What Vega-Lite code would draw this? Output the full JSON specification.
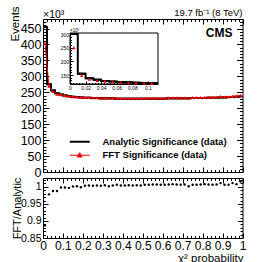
{
  "$schema": "https://vega.github.io/schema/vega-lite/v6.json",
  "background": "white",
  "padding": {"left": 9, "top": 5, "right": 0, "bottom": 0},
  "autosize": {"type": "pad"},
  "config": {
    "font": "Liberation Sans",
    "view": {"stroke": "black", "strokeWidth": 1},
    "axis": {"domain": false, "grid": false, "labelColor": "black", "titleColor": "black", "tickColor": "black", "labelFont": "Liberation Sans", "titleFont": "Liberation Sans", "titleFontWeight": "normal", "tickWidth": 1, "labelFlush": false, "labelOverlap": false, "labelBound": false, "zindex": 1},
    "text": {"font": "Liberation Sans", "color": "black"}
  },
  "datasets": {
    "main": [
      {"lo": 0.00, "hi": 0.02, "c": 0.01, "analytic": 455, "fft": 403.6, "ratio": 0.887},
      {"lo": 0.02, "hi": 0.04, "c": 0.03, "analytic": 275, "fft": 269.0, "ratio": 0.978},
      {"lo": 0.04, "hi": 0.06, "c": 0.05, "analytic": 256, "fft": 252.9, "ratio": 0.988},
      {"lo": 0.06, "hi": 0.08, "c": 0.07, "analytic": 247, "fft": 244.0, "ratio": 0.988},
      {"lo": 0.08, "hi": 0.10, "c": 0.09, "analytic": 243, "fft": 242.5, "ratio": 0.998},
      {"lo": 0.10, "hi": 0.12, "c": 0.11, "analytic": 240, "fft": 239.5, "ratio": 0.998},
      {"lo": 0.12, "hi": 0.14, "c": 0.13, "analytic": 238, "fft": 237.3, "ratio": 0.997},
      {"lo": 0.14, "hi": 0.16, "c": 0.15, "analytic": 236, "fft": 236.2, "ratio": 1.001},
      {"lo": 0.16, "hi": 0.18, "c": 0.17, "analytic": 235, "fft": 235.5, "ratio": 1.002},
      {"lo": 0.18, "hi": 0.20, "c": 0.19, "analytic": 234, "fft": 233.8, "ratio": 0.999},
      {"lo": 0.20, "hi": 0.22, "c": 0.21, "analytic": 233, "fft": 233.7, "ratio": 1.003},
      {"lo": 0.22, "hi": 0.24, "c": 0.23, "analytic": 233, "fft": 233.9, "ratio": 1.004},
      {"lo": 0.24, "hi": 0.26, "c": 0.25, "analytic": 232, "fft": 232.7, "ratio": 1.003},
      {"lo": 0.26, "hi": 0.28, "c": 0.27, "analytic": 232, "fft": 232.9, "ratio": 1.004},
      {"lo": 0.28, "hi": 0.30, "c": 0.29, "analytic": 231, "fft": 231.7, "ratio": 1.003},
      {"lo": 0.30, "hi": 0.32, "c": 0.31, "analytic": 231, "fft": 232.2, "ratio": 1.005},
      {"lo": 0.32, "hi": 0.34, "c": 0.33, "analytic": 231, "fft": 231.5, "ratio": 1.002},
      {"lo": 0.34, "hi": 0.36, "c": 0.35, "analytic": 231, "fft": 231.9, "ratio": 1.004},
      {"lo": 0.36, "hi": 0.38, "c": 0.37, "analytic": 230, "fft": 231.4, "ratio": 1.006},
      {"lo": 0.38, "hi": 0.40, "c": 0.39, "analytic": 230, "fft": 230.9, "ratio": 1.004},
      {"lo": 0.40, "hi": 0.42, "c": 0.41, "analytic": 230, "fft": 230.9, "ratio": 1.004},
      {"lo": 0.42, "hi": 0.44, "c": 0.43, "analytic": 230, "fft": 231.2, "ratio": 1.005},
      {"lo": 0.44, "hi": 0.46, "c": 0.45, "analytic": 230, "fft": 230.9, "ratio": 1.004},
      {"lo": 0.46, "hi": 0.48, "c": 0.47, "analytic": 230, "fft": 231.2, "ratio": 1.005},
      {"lo": 0.48, "hi": 0.50, "c": 0.49, "analytic": 230, "fft": 230.9, "ratio": 1.004},
      {"lo": 0.50, "hi": 0.52, "c": 0.51, "analytic": 230, "fft": 231.4, "ratio": 1.006},
      {"lo": 0.52, "hi": 0.54, "c": 0.53, "analytic": 230, "fft": 231.4, "ratio": 1.006},
      {"lo": 0.54, "hi": 0.56, "c": 0.55, "analytic": 230, "fft": 231.6, "ratio": 1.007},
      {"lo": 0.56, "hi": 0.58, "c": 0.57, "analytic": 230, "fft": 231.6, "ratio": 1.007},
      {"lo": 0.58, "hi": 0.60, "c": 0.59, "analytic": 230, "fft": 231.4, "ratio": 1.006},
      {"lo": 0.60, "hi": 0.62, "c": 0.61, "analytic": 230, "fft": 231.4, "ratio": 1.006},
      {"lo": 0.62, "hi": 0.64, "c": 0.63, "analytic": 231, "fft": 232.6, "ratio": 1.007},
      {"lo": 0.64, "hi": 0.66, "c": 0.65, "analytic": 231, "fft": 232.8, "ratio": 1.008},
      {"lo": 0.66, "hi": 0.68, "c": 0.67, "analytic": 231, "fft": 232.6, "ratio": 1.007},
      {"lo": 0.68, "hi": 0.70, "c": 0.69, "analytic": 231, "fft": 232.4, "ratio": 1.006},
      {"lo": 0.70, "hi": 0.72, "c": 0.71, "analytic": 231, "fft": 232.6, "ratio": 1.007},
      {"lo": 0.72, "hi": 0.74, "c": 0.73, "analytic": 231, "fft": 231.5, "ratio": 1.002},
      {"lo": 0.74, "hi": 0.76, "c": 0.75, "analytic": 232, "fft": 233.4, "ratio": 1.006},
      {"lo": 0.76, "hi": 0.78, "c": 0.77, "analytic": 232, "fft": 233.4, "ratio": 1.006},
      {"lo": 0.78, "hi": 0.80, "c": 0.79, "analytic": 232, "fft": 233.6, "ratio": 1.007},
      {"lo": 0.80, "hi": 0.82, "c": 0.81, "analytic": 232, "fft": 233.9, "ratio": 1.008},
      {"lo": 0.82, "hi": 0.84, "c": 0.83, "analytic": 233, "fft": 234.6, "ratio": 1.007},
      {"lo": 0.84, "hi": 0.86, "c": 0.85, "analytic": 233, "fft": 234.4, "ratio": 1.006},
      {"lo": 0.86, "hi": 0.88, "c": 0.87, "analytic": 233, "fft": 234.6, "ratio": 1.007},
      {"lo": 0.88, "hi": 0.90, "c": 0.89, "analytic": 234, "fft": 236.6, "ratio": 1.011},
      {"lo": 0.90, "hi": 0.92, "c": 0.91, "analytic": 234, "fft": 235.4, "ratio": 1.006},
      {"lo": 0.92, "hi": 0.94, "c": 0.93, "analytic": 235, "fft": 236.4, "ratio": 1.006},
      {"lo": 0.94, "hi": 0.96, "c": 0.95, "analytic": 235, "fft": 237.6, "ratio": 1.011},
      {"lo": 0.96, "hi": 0.98, "c": 0.97, "analytic": 236, "fft": 237.9, "ratio": 1.008},
      {"lo": 0.98, "hi": 1.00, "c": 0.99, "analytic": 237, "fft": 240.8, "ratio": 1.016}
    ],
    "inset": [
      {"lo": 0.00, "hi": 0.01, "c": 0.005, "analytic": 300, "fft": 250},
      {"lo": 0.01, "hi": 0.02, "c": 0.015, "analytic": 155, "fft": 148},
      {"lo": 0.02, "hi": 0.03, "c": 0.025, "analytic": 138, "fft": 134},
      {"lo": 0.03, "hi": 0.04, "c": 0.035, "analytic": 133, "fft": 130},
      {"lo": 0.04, "hi": 0.05, "c": 0.045, "analytic": 128, "fft": 127},
      {"lo": 0.05, "hi": 0.06, "c": 0.055, "analytic": 126, "fft": 125},
      {"lo": 0.06, "hi": 0.07, "c": 0.065, "analytic": 124, "fft": 123},
      {"lo": 0.07, "hi": 0.08, "c": 0.075, "analytic": 123, "fft": 122},
      {"lo": 0.08, "hi": 0.09, "c": 0.085, "analytic": 122, "fft": 121},
      {"lo": 0.09, "hi": 0.10, "c": 0.095, "analytic": 121, "fft": 120},
      {"lo": 0.10, "hi": 0.11, "c": 0.105, "analytic": 120, "fft": 119},
      {"lo": 0.11, "hi": 0.12, "c": 0.115, "analytic": 120, "fft": null}
    ]
  },
  "spacing": 6,
  "bounds": "flush",
  "vconcat": [
    {
      "width": 199.5,
      "height": 153,
      "resolve": {"scale": {"x": "independent", "y": "independent"}, "axis": {"x": "independent", "y": "independent"}},
      "layer": [
        {
          "data": {"name": "main"},
          "layer": [
            {
              "mark": {"type": "rule", "color": "black", "strokeWidth": 2},
              "encoding": {
                "x": {"field": "lo", "type": "quantitative", "scale": {"domain": [0, 1], "nice": false, "zero": false}, "axis": null},
                "x2": {"field": "hi"},
                "y": {"field": "analytic", "type": "quantitative", "scale": {"domain": [0, 480], "nice": false, "zero": false}, "axis": null}
              }
            },
            {
              "mark": {"type": "line", "interpolate": "step", "strokeWidth": 2},
              "encoding": {
                "x": {"field": "c", "type": "quantitative", "axis": null},
                "y": {"field": "analytic", "type": "quantitative", "axis": null},
                "color": {"datum": "Analytic Significance (data)", "type": "nominal",
                  "scale": {"domain": ["Analytic Significance (data)", "FFT Significance (data)"], "range": ["#000000", "#ff0000"]},
                  "legend": {"orient": "none", "legendX": 32, "legendY": 118, "title": null, "padding": 0,
                    "labelFont": "Liberation Sans", "labelFontSize": 9.5, "labelFontWeight": "bold", "labelColor": "black",
                    "symbolSize": 16, "labelOffset": 18, "rowPadding": 2.5,
                    "encode": {"symbols": {"update": {
                      "shape": {"signal": "datum.value === 'FFT Significance (data)' ? 'M-5,0H5M0,-1.3L1.2,0.9L-1.2,0.9Z' : 'M-5,0H5'"},
                      "stroke": {"signal": "datum.value === 'FFT Significance (data)' ? '#ff0000' : '#000000'"},
                      "fill": {"signal": "datum.value === 'FFT Significance (data)' ? '#ff0000' : 'transparent'"},
                      "strokeWidth": {"signal": "datum.value === 'FFT Significance (data)' ? 1 : 2"},
                      "opacity": {"value": 1}
                    }}}}}
              }
            },
            {
              "mark": {"type": "line", "strokeWidth": 1},
              "encoding": {
                "x": {"field": "c", "type": "quantitative", "axis": null},
                "y": {"field": "fft", "type": "quantitative", "axis": null},
                "color": {"datum": "FFT Significance (data)", "type": "nominal"}
              }
            },
            {
              "mark": {"type": "point", "shape": "triangle-up", "filled": true, "color": "#ff0000", "size": 12, "opacity": 1},
              "encoding": {
                "x": {"field": "c", "type": "quantitative", "axis": null},
                "y": {"field": "fft", "type": "quantitative", "axis": null}
              }
            },
            {
              "data": {"values": [{"label": "CMS"}]},
              "mark": {"type": "text", "align": "right", "baseline": "alphabetic", "fontSize": 12, "fontWeight": "bold"},
              "encoding": {
                "x": {"datum": 0.95, "type": "quantitative", "axis": null},
                "y": {"datum": 423.5, "type": "quantitative", "axis": null},
                "text": {"field": "label"}
              }
            },
            {
              "data": {"values": [{"label": "×10³"}]},
              "mark": {"type": "text", "align": "left", "baseline": "alphabetic", "fontSize": 10.5, "dy": -1},
              "encoding": {
                "x": {"datum": 0, "type": "quantitative", "axis": null},
                "y": {"datum": 480, "type": "quantitative", "axis": null},
                "text": {"field": "label"}
              }
            },
            {
              "data": {"values": [{"label": "19.7 fb⁻¹ (8 TeV)"}]},
              "mark": {"type": "text", "align": "right", "baseline": "alphabetic", "fontSize": 9.5, "dy": -3},
              "encoding": {
                "x": {"datum": 1, "type": "quantitative", "axis": null},
                "y": {"datum": 480, "type": "quantitative", "axis": null},
                "text": {"field": "label"}
              }
            }
          ]
        },
        {
          "data": {"values": [{}]},
          "mark": {"type": "point", "opacity": 0},
          "encoding": {
            "x": {"datum": 0.5, "type": "quantitative", "scale": {"domain": [0, 1], "nice": false, "zero": false},
              "axis": {"orient": "bottom", "values": [0,0.02,0.04,0.06,0.08,0.1,0.12,0.14,0.16,0.18,0.2,0.22,0.24,0.26,0.28,0.3,0.32,0.34,0.36,0.38,0.4,0.42,0.44,0.46,0.48,0.5,0.52,0.54,0.56,0.58,0.6,0.62,0.64,0.66,0.68,0.7,0.72,0.74,0.76,0.78,0.8,0.82,0.84,0.86,0.88,0.9,0.92,0.94,0.96,0.98,1],
                "labels": false, "title": null, "domain": false, "grid": false,
                "tickSize": {"condition": {"test": "round(datum.value*50) % 5 === 0", "value": -5}, "value": -2.5}}},
            "y": {"datum": 200, "type": "quantitative", "scale": {"domain": [0, 480], "nice": false, "zero": false},
              "axis": {"orient": "left", "values": [0,10,20,30,40,50,60,70,80,90,100,110,120,130,140,150,160,170,180,190,200,210,220,230,240,250,260,270,280,290,300,310,320,330,340,350,360,370,380,390,400,410,420,430,440,450,460,470],
                "format": "d", "labelExpr": "datum.value % 50 === 0 ? datum.label : ''", "labelOverlap": false, "labelBound": false, "labelFlush": false,
                "domain": false, "grid": false,
                "tickSize": {"condition": {"test": "datum.value % 50 === 0", "value": -6}, "value": -3},
                "labelPadding": 8, "labelFontSize": 12.5,
                "title": "Events", "titleFontSize": 11.5, "titleAngle": -90, "titleAlign": "center", "titleBaseline": "bottom", "titleX": -22.5, "titleY": 4.5}}
          }
        },
        {
          "data": {"values": [{}]},
          "mark": {"type": "rect", "fill": "transparent", "stroke": "black", "strokeWidth": 1},
          "encoding": {
            "x": {"datum": 0, "type": "quantitative", "scale": {"domain": [0, 0.113], "range": [27, 115], "nice": false, "zero": false},
              "axis": {"orient": "bottom", "offset": -88, "domain": true, "domainColor": "black", "domainWidth": 1, "grid": false,
                "values": [0,0.004,0.008,0.012,0.016,0.02,0.024,0.028,0.032,0.036,0.04,0.044,0.048,0.052,0.056,0.06,0.064,0.068,0.072,0.076,0.08,0.084,0.088,0.092,0.096,0.1,0.104,0.108,0.112],
                "labelExpr": "round(datum.value*1000) % 20 === 0 ? format(datum.value, '.2~f') : ''", "labelOverlap": false, "labelBound": false, "labelFlush": false,
                "tickSize": {"condition": {"test": "round(datum.value*1000) % 20 === 0", "value": -3}, "value": -1.5},
                "labelPadding": 4.5, "labelFontSize": 5, "title": null}},
            "x2": {"datum": 0.113},
            "y": {"datum": 117, "type": "quantitative", "scale": {"domain": [117, 304], "range": [65, 14], "nice": false, "zero": false},
              "axis": {"orient": "left", "offset": -27, "domain": true, "domainColor": "black", "domainWidth": 1, "grid": false,
                "values": [120,130,140,150,160,170,180,190,200,210,220,230,240,250,260,270,280,290,300],
                "format": "d", "labelExpr": "datum.value % 50 === 0 ? datum.label : ''", "labelOverlap": false, "labelBound": false, "labelFlush": false,
                "tickSize": {"condition": {"test": "datum.value % 50 === 0", "value": -3}, "value": -1.5},
                "labelPadding": 4.5, "labelFontSize": 5, "title": null}},
            "y2": {"datum": 304}
          }
        },
        {
          "data": {"name": "inset"},
          "layer": [
            {
              "mark": {"type": "rule", "color": "black", "strokeWidth": 2},
              "encoding": {
                "x": {"field": "lo", "type": "quantitative", "scale": {"domain": [0, 0.113], "range": [27, 115], "nice": false, "zero": false, "clamp": true}, "axis": null},
                "x2": {"field": "hi"},
                "y": {"field": "analytic", "type": "quantitative", "scale": {"domain": [117, 304], "range": [65, 14], "nice": false, "zero": false}, "axis": null}
              }
            },
            {
              "mark": {"type": "line", "interpolate": "step", "color": "black", "strokeWidth": 2},
              "encoding": {
                "x": {"field": "c", "type": "quantitative", "axis": null},
                "y": {"field": "analytic", "type": "quantitative", "axis": null}
              }
            },
            {
              "mark": {"type": "point", "shape": "triangle-up", "filled": true, "color": "#ff0000", "size": 12, "opacity": 1},
              "encoding": {
                "x": {"field": "c", "type": "quantitative", "axis": null},
                "y": {"field": "fft", "type": "quantitative", "axis": null}
              }
            },
            {
              "data": {"values": [{"label": "×10³"}]},
              "mark": {"type": "text", "align": "left", "baseline": "alphabetic", "fontSize": 4.5, "dy": -1},
              "encoding": {
                "x": {"datum": 0, "type": "quantitative", "axis": null},
                "y": {"datum": 304, "type": "quantitative", "axis": null},
                "text": {"field": "label"}
              }
            }
          ]
        },
        {
          "data": {"values": [{}]},
          "mark": {"type": "point", "opacity": 0},
          "encoding": {
            "x": {"datum": 0.5, "type": "quantitative", "scale": {"domain": [0, 1], "nice": false, "zero": false},
              "axis": {"orient": "top", "values": [0,0.02,0.04,0.06,0.08,0.1,0.12,0.14,0.16,0.18,0.2,0.22,0.24,0.26,0.28,0.3,0.32,0.34,0.36,0.38,0.4,0.42,0.44,0.46,0.48,0.5,0.52,0.54,0.56,0.58,0.6,0.62,0.64,0.66,0.68,0.7,0.72,0.74,0.76,0.78,0.8,0.82,0.84,0.86,0.88,0.9,0.92,0.94,0.96,0.98,1],
                "labels": false, "title": null, "domain": false, "grid": false,
                "tickSize": {"condition": {"test": "round(datum.value*50) % 5 === 0", "value": -5}, "value": -2.5}}},
            "y": {"datum": 200, "type": "quantitative", "scale": {"domain": [0, 480], "nice": false, "zero": false},
              "axis": {"orient": "right", "values": [0,10,20,30,40,50,60,70,80,90,100,110,120,130,140,150,160,170,180,190,200,210,220,230,240,250,260,270,280,290,300,310,320,330,340,350,360,370,380,390,400,410,420,430,440,450,460,470],
                "labels": false, "title": null, "domain": false, "grid": false,
                "tickSize": {"condition": {"test": "datum.value % 50 === 0", "value": -6}, "value": -3}}}
          }
        }
      ]
    },
    {
      "width": 199.5,
      "height": 60,
      "resolve": {"scale": {"x": "independent", "y": "independent"}, "axis": {"x": "independent", "y": "independent"}},
      "layer": [
        {
          "data": {"name": "main"},
          "mark": {"type": "point", "shape": "circle", "filled": true, "color": "black", "size": 6, "opacity": 1},
          "encoding": {
            "x": {"field": "c", "type": "quantitative", "scale": {"domain": [0, 1], "nice": false, "zero": false},
              "axis": {"orient": "bottom", "values": [0,0.02,0.04,0.06,0.08,0.1,0.12,0.14,0.16,0.18,0.2,0.22,0.24,0.26,0.28,0.3,0.32,0.34,0.36,0.38,0.4,0.42,0.44,0.46,0.48,0.5,0.52,0.54,0.56,0.58,0.6,0.62,0.64,0.66,0.68,0.7,0.72,0.74,0.76,0.78,0.8,0.82,0.84,0.86,0.88,0.9,0.92,0.94,0.96,0.98,1],
                "labelExpr": "round(datum.value*50) % 5 === 0 ? format(datum.value, '.1~f') : ''", "labelOverlap": false, "labelBound": false, "labelFlush": false,
                "domain": false, "grid": false,
                "tickSize": {"condition": {"test": "round(datum.value*50) % 5 === 0", "value": -5}, "value": -2.5},
                "labelPadding": 7, "labelFontSize": 12,
                "title": "χ² probability", "titleFontSize": 11.5, "titleAngle": 0, "titleAlign": "right", "titleBaseline": "alphabetic", "titleX": 200, "titleY": 23}},
            "y": {"field": "ratio", "type": "quantitative", "scale": {"domain": [0.85, 1.026], "nice": false, "zero": false},
              "axis": {"orient": "left", "values": [0.85,0.86,0.87,0.88,0.89,0.9,0.91,0.92,0.93,0.94,0.95,0.96,0.97,0.98,0.99,1,1.01,1.02],
                "labelExpr": "round(datum.value*100) % 5 === 0 ? format(datum.value, '.2~f') : ''", "labelOverlap": false, "labelBound": false, "labelFlush": false,
                "domain": false, "grid": false,
                "tickSize": {"condition": {"test": "round(datum.value*100) % 5 === 0", "value": -5}, "value": -2.5},
                "labelPadding": 7, "labelFontSize": 10.5,
                "title": "FFT/Analytic", "titleFontSize": 11, "titleAngle": -90, "titleAlign": "center", "titleBaseline": "bottom", "titleX": -20.5, "titleY": 30}}
          }
        },
        {
          "data": {"values": [{}]},
          "mark": {"type": "point", "opacity": 0},
          "encoding": {
            "x": {"datum": 0.5, "type": "quantitative", "scale": {"domain": [0, 1], "nice": false, "zero": false},
              "axis": {"orient": "top", "values": [0,0.02,0.04,0.06,0.08,0.1,0.12,0.14,0.16,0.18,0.2,0.22,0.24,0.26,0.28,0.3,0.32,0.34,0.36,0.38,0.4,0.42,0.44,0.46,0.48,0.5,0.52,0.54,0.56,0.58,0.6,0.62,0.64,0.66,0.68,0.7,0.72,0.74,0.76,0.78,0.8,0.82,0.84,0.86,0.88,0.9,0.92,0.94,0.96,0.98,1],
                "labels": false, "title": null, "domain": false, "grid": false,
                "tickSize": {"condition": {"test": "round(datum.value*50) % 5 === 0", "value": -5}, "value": -2.5}}},
            "y": {"datum": 1, "type": "quantitative", "scale": {"domain": [0.85, 1.026], "nice": false, "zero": false},
              "axis": {"orient": "right", "values": [0.85,0.86,0.87,0.88,0.89,0.9,0.91,0.92,0.93,0.94,0.95,0.96,0.97,0.98,0.99,1,1.01,1.02],
                "labels": false, "title": null, "domain": false, "grid": false,
                "tickSize": {"condition": {"test": "round(datum.value*100) % 5 === 0", "value": -5}, "value": -2.5}}}
          }
        }
      ]
    }
  ]
}
